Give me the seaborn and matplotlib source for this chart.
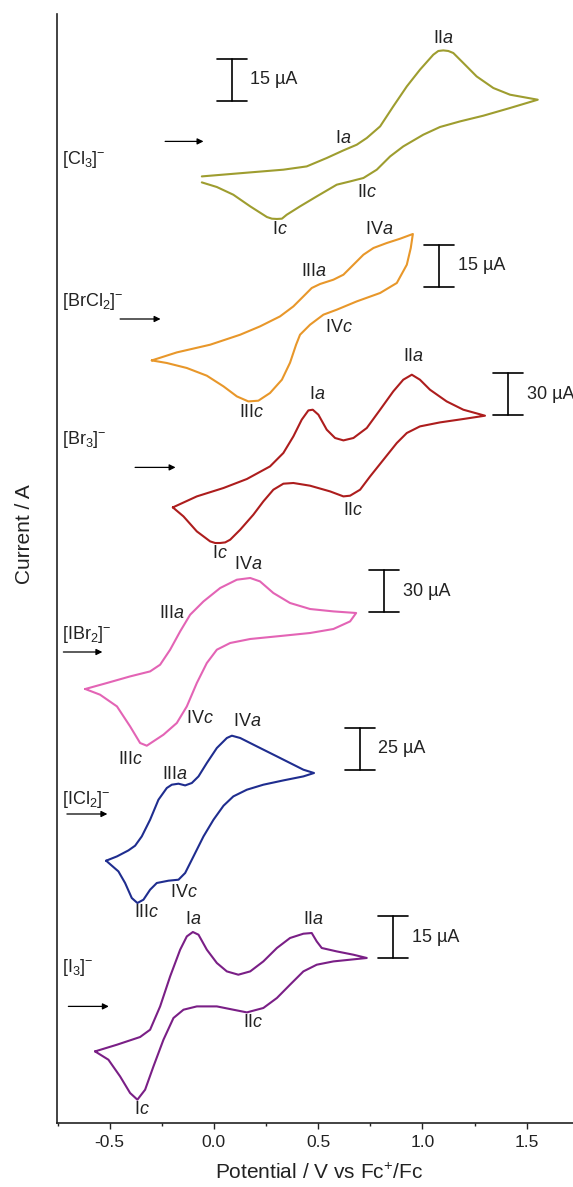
import numpy as np
import pandas as pd
import matplotlib
matplotlib.use("Agg")
import matplotlib.pyplot as plt
import seaborn as sns
from matplotlib.ticker import MultipleLocator

# ---------------- data (potential in V vs Fc+/Fc, current in µA) ----------------
species = ["Cl3", "BrCl2", "Br3", "IBr2", "ICl2", "I3"]
species_labels = [r"[Cl$_3$]$^{-}$", r"[BrCl$_2$]$^{-}$", r"[Br$_3$]$^{-}$",
                  r"[IBr$_2$]$^{-}$", r"[ICl$_2$]$^{-}$", r"[I$_3$]$^{-}$"]
scale_bar_uA = [15, 15, 30, 30, 25, 15]

E_cl3 = [-0.058, 0.174, 0.333, 0.445, 0.541, 0.621, 0.685, 0.733, 0.797, 0.860, 0.925, 0.988,
         1.052, 1.076, 1.100, 1.124, 1.148, 1.196, 1.260, 1.340, 1.420, 1.553,
         1.420, 1.292, 1.180, 1.084, 1.004, 0.908, 0.845, 0.781, 0.717, 0.653, 0.589, 0.493,
         0.413, 0.349, 0.326, 0.302, 0.278, 0.254, 0.174, 0.093, 0.014, -0.058]
I_cl3 = [-12.5, -11.07, -10.1, -8.93, -5.93, -3.21, -1.18, 1.21, 5.36, 12.5, 19.64, 25.6,
         30.96, 32.29, 32.5, 32.29, 31.57, 28.0, 23.2, 19.07, 16.68, 14.89,
         11.93, 9.18, 7.14, 5.14, 2.39, -1.79, -5.36, -10.1, -13.07, -14.29, -15.46, -19.64,
         -23.2, -26.2, -27.6, -27.7, -27.6, -27.0, -23.2, -19.04, -16.29, -14.64]

E_brcl2 = [-0.298, -0.178, -0.018, 0.126, 0.221, 0.317, 0.381, 0.429, 0.469, 0.509, 0.573, 0.621,
           0.669, 0.717, 0.765, 0.829, 0.893, 0.954,
           0.944, 0.925, 0.877, 0.797, 0.685, 0.589, 0.525, 0.461, 0.413, 0.394, 0.365, 0.326,
           0.269, 0.213, 0.165, 0.110, 0.046, -0.034, -0.130, -0.226, -0.298]
I_brcl2 = [-14.79, -11.93, -9.18, -5.61, -2.64, 0.93, 4.5, 8.07, 11.07, 12.5, 14.04, 15.82,
           19.39, 22.96, 25.36, 27.14, 28.68, 30.36,
           25.36, 19.39, 12.86, 9.29, 6.29, 3.32, 1.54, -2.04, -5.61, -9.18, -15.61, -21.68,
           -26.43, -29.18, -29.43, -27.64, -24.07, -20.25, -17.5, -15.71, -14.79]

E_br3 = [-0.197, -0.082, 0.046, 0.158, 0.269, 0.333, 0.381, 0.421, 0.453, 0.474, 0.501, 0.541,
         0.581, 0.621, 0.669, 0.733, 0.797, 0.860, 0.908, 0.949, 0.988, 1.036, 1.116, 1.196, 1.300,
         1.196, 1.084, 0.988, 0.925, 0.877, 0.813, 0.749, 0.701, 0.653, 0.621, 0.557, 0.461,
         0.381, 0.333, 0.285, 0.237, 0.189, 0.126, 0.078, 0.054, 0.030, 0.006, -0.018, -0.082,
         -0.146, -0.197]
I_br3 = [-28.57, -20.71, -14.71, -8.29, 0.71, 10.29, 22.14, 34.07, 40.71, 41.21, 37.64, 26.93,
         21.0, 19.29, 21.0, 28.14, 41.21, 54.29, 62.64, 66.21, 62.64, 55.5, 47.14, 41.21, 36.93,
         34.57, 32.14, 29.29, 24.57, 17.43, 5.5, -6.43, -15.93, -20.21, -20.71, -17.14, -13.07,
         -11.14, -11.64, -15.93, -24.29, -33.79, -44.5, -51.64, -53.57, -54.0, -54.0, -52.86,
         -45.71, -35.0, -28.57]

E_ibr2 = [-0.617, -0.513, -0.402, -0.306, -0.258, -0.210, -0.162, -0.114, -0.050, 0.030, 0.110,
          0.174, 0.221, 0.285, 0.365, 0.461, 0.573, 0.682,
          0.653, 0.573, 0.461, 0.333, 0.174, 0.078, 0.014, -0.034, -0.082, -0.130, -0.178,
          -0.242, -0.322, -0.354, -0.402, -0.465, -0.546, -0.617]
I_ibr2 = [-26.43, -22.14, -17.43, -13.86, -9.07, 1.64, 14.71, 26.64, 36.14, 45.71, 51.64,
          52.86, 50.43, 42.14, 35.0, 30.71, 29.0, 27.86,
          21.86, 16.43, 13.57, 11.64, 9.29, 6.43, 1.64, -7.86, -22.14, -38.86, -50.71,
          -59.07, -66.93, -65.0, -53.14, -38.86, -30.5, -26.43]

E_icl2 = [-0.517, -0.465, -0.410, -0.378, -0.346, -0.306, -0.266, -0.226, -0.202, -0.170, -0.138,
          -0.106, -0.074, -0.034, 0.014, 0.062, 0.086, 0.126, 0.206, 0.302, 0.365, 0.429, 0.480,
          0.429, 0.333, 0.237, 0.158, 0.093, 0.046, -0.002, -0.050, -0.098, -0.138, -0.170,
          -0.218, -0.274, -0.306, -0.338, -0.367, -0.394, -0.426, -0.458, -0.517]
I_icl2 = [-27.8, -25.24, -21.67, -18.87, -13.33, -3.39, 8.51, 15.48, 17.44, 18.04, 17.02,
          18.45, 22.38, 30.36, 39.29, 45.24, 46.61, 45.24, 40.24, 34.29, 30.36, 26.37, 24.4,
          22.38, 20.0, 17.44, 14.46, 10.48, 4.94, -3.39, -13.33, -25.24, -35.12, -39.11,
          -39.7, -41.07, -45.06, -51.01, -52.98, -50.0, -41.07, -34.17, -27.8]

E_i3 = [-0.570, -0.465, -0.354, -0.306, -0.258, -0.210, -0.162, -0.130, -0.101, -0.074, -0.034,
        0.014, 0.062, 0.117, 0.174, 0.237, 0.302, 0.365, 0.429, 0.469, 0.493, 0.517, 0.589,
        0.669, 0.733,
        0.653, 0.573, 0.493, 0.429, 0.365, 0.302, 0.237, 0.158, 0.093, 0.014, -0.082, -0.146,
        -0.194, -0.242, -0.290, -0.330, -0.367, -0.402, -0.450, -0.506, -0.570]
I_i3 = [-16.07, -13.68, -10.93, -8.32, 0.0, 10.71, 20.25, 25.0, 26.57, 25.61, 20.25,
        15.5, 12.5, 11.32, 12.5, 16.07, 20.86, 24.43, 25.96, 26.21, 23.21, 20.86, 19.64,
        18.46, 17.29,
        16.68, 16.07, 14.89, 12.5, 7.75, 3.0, -0.57, -2.14, -1.18, 0.0, 0.0, -1.18,
        -4.14, -11.89, -21.43, -29.75, -33.32, -30.93, -25.0, -19.04, -16.07]

# peak labels: (roman numeral, letter, potential V, current µA relative to trace)
peak_labels = {
    "Cl3": [("II", "a", 1.100, 36.8), ("I", "a", 0.621, 1.2), ("II", "c", 0.733, -18.4), ("I", "c", 0.317, -31.3)],
    "BrCl2": [("IV", "a", 0.793, 32.0), ("III", "a", 0.477, 17.1), ("IV", "c", 0.597, -3.2), ("III", "c", 0.182, -33.4)],
    "Br3": [("II", "a", 0.955, 79.2), ("I", "a", 0.493, 52.1), ("II", "c", 0.669, -31.1), ("I", "c", 0.030, -61.2)],
    "IBr2": [("IV", "a", 0.165, 62.6), ("III", "a", -0.202, 27.8), ("IV", "c", -0.066, -47.2), ("III", "c", -0.402, -76.9)],
    "ICl2": [("IV", "a", 0.159, 54.9), ("III", "a", -0.186, 23.4), ("IV", "c", -0.146, -47.0), ("III", "c", -0.322, -58.6)],
    "I3": [("I", "a", -0.098, 31.0), ("II", "a", 0.477, 31.0), ("II", "c", 0.189, -5.8), ("I", "c", -0.346, -36.9)],
}

# ---------------- layout / style ----------------
colors = {"Cl3": "#9e9d2f", "BrCl2": "#e8972a", "Br3": "#ad1d1d",
          "IBr2": "#e364b5", "ICl2": "#1f2d8f", "I3": "#7a1f86"}
offsets = {"Cl3": 981.3, "BrCl2": 803.7, "Br3": 655.3, "IBr2": 470.7, "ICl2": 308.7, "I3": 116.3}
bar_height = 42.0  # display units for every scale bar
gains = {s: bar_height / b for s, b in zip(species, scale_bar_uA)}
bar_pos = {"Cl3": (0.086, 1022.0), "BrCl2": (1.081, 835.7), "Br3": (1.412, 707.3),
           "IBr2": (0.817, 510.3), "ICl2": (0.701, 353.0), "I3": (0.860, 164.7)}
arrow_x = {"Cl3": (-0.234, -0.050), "BrCl2": (-0.450, -0.256), "Br3": (-0.378, -0.184),
           "IBr2": (-0.722, -0.535), "ICl2": (-0.705, -0.511), "I3": (-0.698, -0.504)}
name_pos = {"Cl3": 963, "BrCl2": 821, "Br3": 683, "IBr2": 488, "ICl2": 323, "I3": 155}

series = {"Cl3": (E_cl3, I_cl3), "BrCl2": (E_brcl2, I_brcl2), "Br3": (E_br3, I_br3),
          "IBr2": (E_ibr2, I_ibr2), "ICl2": (E_icl2, I_icl2), "I3": (E_i3, I_i3)}

sns.set_theme(style="white")
plt.rcParams["font.family"] = ["Liberation Sans", "DejaVu Sans"]
plt.rcParams["mathtext.fontset"] = "custom"
plt.rcParams["mathtext.rm"] = "Liberation Sans"
plt.rcParams["mathtext.it"] = "Liberation Sans:italic"
plt.rcParams["mathtext.bf"] = "Liberation Sans:bold"

rows = []
for s in species:
    E, I = series[s]
    for k, (e, i) in enumerate(zip(E, I)):
        rows.append({"species": s, "k": k, "E": e, "y": offsets[s] + gains[s] * i})
df = pd.DataFrame(rows)

fig = plt.figure(figsize=(5.73, 11.87), dpi=100)
ax = fig.add_axes([56.7 / 573, 64.3 / 1187, (573 - 56.7) / 573, (1123 - 14) / 1187])

sns.lineplot(data=df, x="E", y="y", hue="species", palette=colors, sort=False,
             estimator=None, legend=False, linewidth=1.5, ax=ax)
for ln in ax.get_lines():
    ln.set_solid_joinstyle("round")
    ln.set_solid_capstyle("round")

ax.set_xlim(-0.754, 1.722)
ax.set_ylim(0, 1109)

fs_ann = 13
for s, lab in zip(species, species_labels):
    off, g = offsets[s], gains[s]
    ax.text(-0.728, name_pos[s], lab, ha="left", va="center", fontsize=fs_ann, color="#222222")
    x0, x1 = arrow_x[s]
    ax.annotate("", xy=(x1, off), xytext=(x0, off),
                arrowprops=dict(arrowstyle="-|>", lw=0.9, color="black", mutation_scale=9,
                                shrinkA=0, shrinkB=0))
    bx, by = bar_pos[s]
    top = by + g * scale_bar_uA[species.index(s)]
    ax.plot([bx, bx], [by, top], color="black", lw=1.2)
    ax.plot([bx - 0.072, bx + 0.072], [by, by], color="black", lw=1.2)
    ax.plot([bx - 0.072, bx + 0.072], [top, top], color="black", lw=1.2)
    ax.text(bx + 0.088, (by + top) / 2, f"{scale_bar_uA[species.index(s)]} µA",
            ha="left", va="center", fontsize=fs_ann, color="#222222")
    for roman, letter, e, i in peak_labels[s]:
        ax.text(e, off + g * i, roman + r"$\mathit{" + letter + "}$", ha="center", va="center",
                fontsize=fs_ann, color="#222222")

ax.xaxis.set_major_locator(MultipleLocator(0.5))
ax.xaxis.set_minor_locator(MultipleLocator(0.25))
ax.xaxis.set_major_formatter(matplotlib.ticker.FuncFormatter(lambda v, p: f"{v:.1f}"))
ax.tick_params(axis="x", which="major", direction="out", length=4.2, width=1.0,
               labelsize=12.5, pad=5, bottom=True, colors="#222222")
ax.tick_params(axis="x", which="minor", direction="out", length=2.0, width=1.0, bottom=True,
               colors="#222222")
ax.set_yticks([])
for sp in ["top", "right"]:
    ax.spines[sp].set_visible(False)
for sp in ["left", "bottom"]:
    ax.spines[sp].set_linewidth(1.2)
    ax.spines[sp].set_color("#222222")

ax.set_xlabel(r"Potential / V vs Fc$^{+}$/Fc", fontsize=15, color="#222222")
ax.xaxis.set_label_coords(0.508, -0.036)
ax.set_ylabel("Current / A", fontsize=15, color="#222222")
ax.yaxis.set_label_coords(-0.0614, 0.531)
ax.yaxis.label.set_va("center")

fig.savefig("out.png", dpi=100)
